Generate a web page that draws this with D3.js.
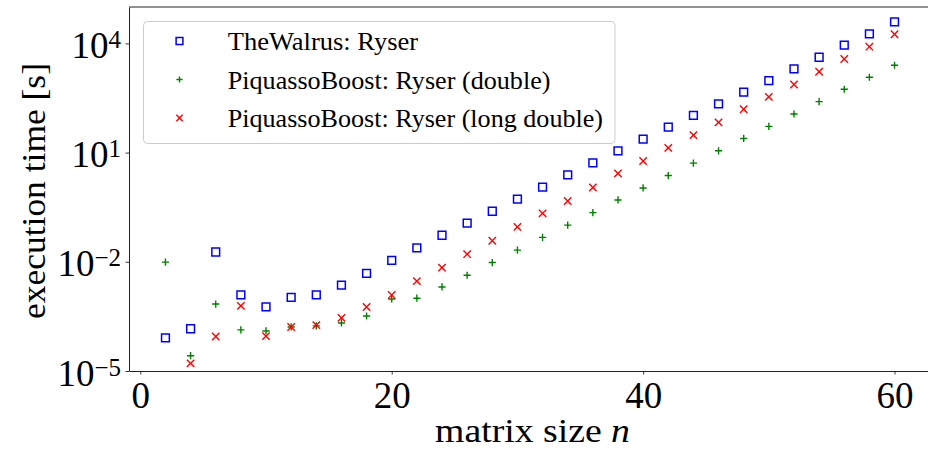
<!DOCTYPE html>
<html>
<head>
<meta charset="utf-8">
<script src="https://cdn.jsdelivr.net/npm/d3@7"></script>
<style>
  body { margin: 0; background: #fff; }
  svg { display: block; }
  text { font-family: "Liberation Serif", "Times New Roman", serif; fill: #000; }
</style>
</head>
<body>
<svg id="chart" width="928" height="449"></svg>
<script>
// Matrix sizes n
const sizes = [2, 4, 6, 8, 10, 12, 14, 16, 18, 20, 22, 24, 26, 28, 30,
               32, 34, 36, 38, 40, 42, 44, 46, 48, 50, 52, 54, 56, 58, 60];

// Execution times in seconds
const theWalrus = [8.1e-5, 1.45e-4, 1.86e-2, 1.23e-3, 5.75e-4, 1.05e-3, 1.23e-3, 2.29e-3,
                   4.79e-3, 1.10e-2, 2.40e-2, 5.37e-2, 0.115, 0.245, 0.525, 1.12, 2.45,
                   5.25, 11.2, 23.4, 50.1, 105, 219, 457, 955, 2000, 4170, 8910, 18200, 38900];

const pbDouble = [9.8e-3, 2.63e-5, 6.9e-4, 1.35e-4, 1.26e-4, 1.62e-4, 1.74e-4, 2.09e-4,
                  3.24e-4, 9.5e-4, 1.0e-3, 2.04e-3, 4.27e-3, 9.55e-3, 2.09e-2, 4.68e-2,
                  0.102, 0.224, 0.501, 1.07, 2.34, 5.13, 11.2, 24.5, 52.5, 115, 251, 550,
                  1175, 2510];

const pbLongDouble = [null, 1.62e-5, 8.9e-5, 6.17e-4, 9.1e-5, 1.62e-4, 1.82e-4, 2.88e-4,
                      5.75e-4, 1.23e-3, 2.95e-3, 6.92e-3, 1.62e-2, 3.80e-2, 9.12e-2, 0.214,
                      0.468, 1.10, 2.69, 5.89, 13.5, 30.2, 67.6, 155, 339, 741, 1660, 3720,
                      8130, 17800];

const seriesNames = ["TheWalrus: Ryser",
                     "PiquassoBoost: Ryser (double)",
                     "PiquassoBoost: Ryser (long double)"];
const seriesColors = ["#0000ff", "#008000", "#ff0000"];
const seriesMarkers = ["square", "plus", "cross"];

const xTickValues = [0, 20, 40, 60];
const yTickExponents = [-5, -2, 1, 4];

const xLabel = "matrix size ";
const xLabelVar = "n";
const yLabel = "execution time [s]";

// ---- layout ----
const svg = d3.select("#chart");
const plotLeft = 129, plotRight = 931, plotTop = 7, plotBottom = 371;

const x = d3.scaleLinear().domain([-0.9, 62.9]).range([plotLeft, plotRight]);
const y = d3.scaleLog().domain([1e-5, 1e5]).range([plotBottom, plotTop]);

const TICK_FONT = 37, SUP_FONT = 25;

// marker shapes, r = half size
function markerPath(kind, r) {
  if (kind === "square") return `M${-r},${-r}H${r}V${r}H${-r}Z`;
  if (kind === "plus") return `M${-r},0H${r}M0,${-r}V${r}`;
  return `M${-r},${-r}L${r},${r}M${-r},${r}L${r},${-r}`;
}
const markerSize = { square: 3.9, plus: 3.6, cross: 3.7 };
const legendMarkerSize = { square: 3.4, plus: 3.1, cross: 3.2 };
const markerWidth = { square: 1.5, plus: 1.4, cross: 1.4 };

// ---- axes ----
const xAxis = d3.axisBottom(x).tickValues(xTickValues).tickSize(3.5).tickSizeOuter(0)
  .tickFormat(d3.format("d"));
const gx = svg.append("g").attr("transform", `translate(0,${plotBottom})`).call(xAxis);
gx.select(".domain").attr("stroke", "#222").attr("stroke-width", 1);
gx.selectAll(".tick line").attr("stroke", "#222").attr("stroke-width", 0.9);
gx.selectAll(".tick text")
  .attr("y", 37.3).attr("dy", 0)
  .attr("font-size", TICK_FONT)
  .attr("font-family", "Liberation Serif, serif")
  .attr("fill", "#000");

const yAxis = d3.axisLeft(y).tickValues(yTickExponents.map(e => Math.pow(10, e)))
  .tickSize(3.5).tickSizeOuter(0).tickPadding(4).tickFormat(() => "");
const gy = svg.append("g").attr("transform", `translate(${plotLeft},0)`).call(yAxis);
gy.select(".domain").attr("stroke", "#222").attr("stroke-width", 1);
gy.selectAll(".tick line").attr("stroke", "#222").attr("stroke-width", 0.9);
gy.selectAll(".tick text")
  .attr("x", -8).attr("y", 14).attr("dy", 0)
  .attr("font-family", "Liberation Serif, serif")
  .attr("fill", "#000")
  .each(function(d) {
    const e = Math.round(Math.log10(d));
    const t = d3.select(this);
    t.text(null);
    t.append("tspan").attr("font-size", TICK_FONT).text("10");
    t.append("tspan").attr("font-size", SUP_FONT).attr("dy", -10)
      .text(e < 0 ? "\u2212" + Math.abs(e) : String(e));
  });

// top and right spines
svg.append("line").attr("x1", plotLeft).attr("x2", plotRight).attr("y1", plotTop).attr("y2", plotTop)
  .attr("stroke", "#222").attr("stroke-width", 1);
svg.append("line").attr("x1", plotRight).attr("x2", plotRight).attr("y1", plotTop).attr("y2", plotBottom)
  .attr("stroke", "#222").attr("stroke-width", 1);

// ---- data points ----
const allSeries = [theWalrus, pbDouble, pbLongDouble];
allSeries.forEach((vals, i) => {
  const pts = sizes.map((n, j) => ({ n, v: vals[j] })).filter(p => p.v != null);
  svg.append("g").selectAll("path").data(pts).join("path")
    .attr("transform", p => `translate(${x(p.n)},${y(p.v)})`)
    .attr("d", markerPath(seriesMarkers[i], markerSize[seriesMarkers[i]]))
    .attr("fill", "none")
    .attr("stroke", seriesColors[i])
    .attr("stroke-width", markerWidth[seriesMarkers[i]]);
});

// ---- helper: horizontal scale factor that fits a text element to a target width ----
function fitWidth(sel, target) {
  const w = sel.node().getComputedTextLength();
  return w > 0 ? target / w : 1;
}

// ---- legend ----
const lg = svg.append("g");
lg.append("rect").attr("x", 143.5).attr("y", 21.5).attr("width", 471.5).attr("height", 122)
  .attr("rx", 4).attr("fill", "#fff").attr("fill-opacity", 0.8)
  .attr("stroke", "#cccccc").attr("stroke-width", 1);
const legendRowsY = [41, 79.5, 118];
const legendWidths = [190.6, 323, 375.6];
seriesNames.forEach((name, i) => {
  const k = seriesMarkers[i];
  lg.append("path")
    .attr("transform", `translate(179.5,${legendRowsY[i]})`)
    .attr("d", markerPath(k, legendMarkerSize[k]))
    .attr("fill", "none").attr("stroke", seriesColors[i])
    .attr("stroke-width", markerWidth[k]);
  const g = lg.append("g").attr("transform", `translate(227.7,${legendRowsY[i] + 9})`);
  const t = g.append("text").attr("font-size", 26).text(name);
  const s = fitWidth(t, legendWidths[i]);
  t.attr("transform", `scale(${s},1)`);
});

// ---- axis labels ----
const gxl = svg.append("g").attr("transform", `translate(532.5,442)`);
const xt = gxl.append("text").attr("font-size", 34).attr("text-anchor", "middle");
xt.append("tspan").text(xLabel);
xt.append("tspan").attr("font-style", "italic").text(xLabelVar);
xt.attr("transform", `scale(${fitWidth(xt, 195)},1)`);

const gyl = svg.append("g").attr("transform", `translate(45,191) rotate(-90)`);
const yt = gyl.append("text").attr("font-size", 34).attr("text-anchor", "middle").text(yLabel);
yt.attr("transform", `scale(${fitWidth(yt, 256)},1)`);
</script>
</body>
</html>
